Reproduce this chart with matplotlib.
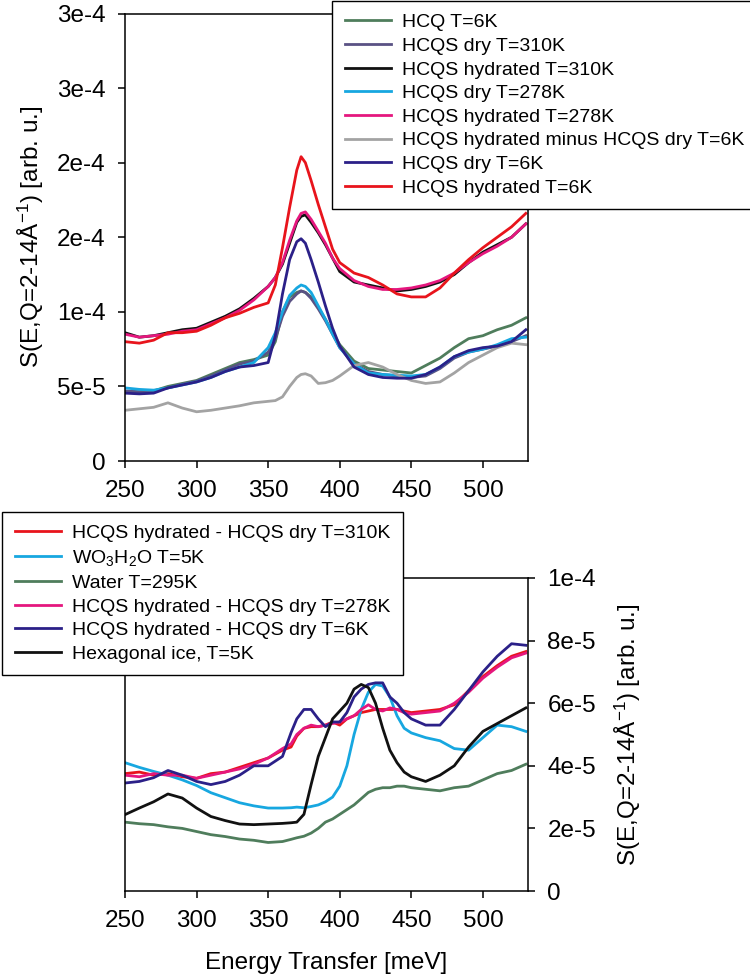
import matplotlib
matplotlib.use("Agg")
import matplotlib.pyplot as plt

plt.rcParams['font.family'] = ['Liberation Sans', 'DejaVu Sans']
plt.rcParams['mathtext.fontset'] = 'custom'
plt.rcParams['mathtext.rm'] = 'Liberation Sans'
plt.rcParams['mathtext.it'] = 'Liberation Sans'

# ---- top panel data (values in 1e-5 arb. u.) ----
e_top = [250, 260, 270, 280, 290, 300, 310, 320, 330, 340, 350, 355, 360, 365, 370, 373,
         376, 380, 385, 390, 395, 400, 410, 420, 430, 440, 450, 460, 470, 480, 490, 500,
         510, 520, 530]
hcq_6k = [4.65, 4.6, 4.7, 5.0, 5.2, 5.4, 5.8, 6.2, 6.6, 6.8, 7.1, 8.0, 10.0, 11.0, 11.3, 11.4,
          11.3, 11.0, 10.3, 9.5, 8.6, 7.8, 6.7, 6.2, 6.1, 6.0, 5.9, 6.4, 6.9, 7.6, 8.2, 8.4,
          8.8, 9.1, 9.6]
dry_310 = [4.7, 4.65, 4.7, 4.9, 5.15, 5.35, 5.7, 6.1, 6.5, 6.7, 7.3, 8.2, 9.7, 10.7, 11.2, 11.4,
           11.3, 10.9, 10.2, 9.4, 8.5, 7.6, 6.5, 6.0, 5.8, 5.7, 5.6, 5.7, 6.2, 6.9, 7.3, 7.5,
           7.7, 8.0, 8.4]
hyd_310 = [8.6, 8.3, 8.4, 8.6, 8.8, 8.9, 9.3, 9.7, 10.2, 10.9, 11.7, 12.3, 13.2, 14.6, 16.0, 16.4,
           16.5, 16.0, 15.3, 14.5, 13.6, 12.7, 12.0, 11.8, 11.6, 11.4, 11.5, 11.7, 12.0, 12.5, 13.3, 14.0,
           14.5, 15.0, 15.9]
dry_278 = [4.9, 4.8, 4.75, 4.9, 5.1, 5.3, 5.6, 6.0, 6.3, 6.6, 7.6, 8.6, 10.0, 11.1, 11.6, 11.8,
           11.7, 11.3, 10.4, 9.5, 8.5, 7.6, 6.5, 5.9, 5.8, 5.75, 5.7, 5.8, 6.3, 7.0, 7.3, 7.5,
           7.8, 8.2, 8.3]
hyd_278 = [8.5, 8.3, 8.4, 8.5, 8.7, 8.8, 9.2, 9.6, 10.1, 10.8, 11.7, 12.3, 13.3, 14.8, 16.1, 16.6,
           16.7, 16.2, 15.4, 14.6, 13.6, 12.9, 12.1, 11.7, 11.5, 11.5, 11.6, 11.8, 12.1, 12.6, 13.3, 13.9,
           14.4, 15.0, 15.9]
hyd_minus_dry_6k = [3.4, 3.5, 3.6, 3.9, 3.55, 3.3, 3.4, 3.55, 3.7, 3.9, 4.0, 4.05, 4.3, 5.0, 5.6, 5.8,
                    5.85, 5.7, 5.2, 5.25, 5.4, 5.7, 6.4, 6.6, 6.3, 5.8, 5.4, 5.2, 5.3, 5.9, 6.6, 7.1,
                    7.6, 7.9, 7.8]
dry_6k = [4.55, 4.5, 4.55, 4.9, 5.1, 5.3, 5.6, 6.0, 6.3, 6.4, 6.6, 8.4, 11.2, 13.5, 14.7, 14.9,
          14.6, 13.5, 12.0, 10.4, 8.9, 7.7, 6.3, 5.8, 5.6, 5.55, 5.55, 5.8, 6.3, 7.0, 7.4, 7.6,
          7.7, 8.0, 8.8]
hyd_6k = [8.0, 7.9, 8.1, 8.6, 8.6, 8.7, 9.1, 9.6, 9.9, 10.3, 10.6, 11.8, 14.3, 17.0, 19.5, 20.4,
          20.0, 18.8, 17.2, 15.7, 14.2, 13.3, 12.6, 12.3, 11.8, 11.2, 11.0, 11.0, 11.6, 12.6, 13.5, 14.3,
          15.0, 15.7, 16.6]

top_labels = ['HCQ T=6K', 'HCQS dry T=310K', 'HCQS hydrated T=310K', 'HCQS dry T=278K',
              'HCQS hydrated T=278K', 'HCQS hydrated minus HCQS dry T=6K', 'HCQS dry T=6K',
              'HCQS hydrated T=6K']
top_colors = ['#4f7d5c', '#5a5284', '#111111', '#17a7e0', '#e5177e', '#a3a3a3', '#2b2088', '#e8141c']
top_series = [hcq_6k, dry_310, hyd_310, dry_278, hyd_278, hyd_minus_dry_6k, dry_6k, hyd_6k]
top_yticks = [0, 5e-5, 1e-4, 1.5e-4, 2e-4, 2.5e-4, 3e-4]
top_yticklabels = ['0', '5e-5', '1e-4', '2e-4', '2e-4', '3e-4', '3e-4']

# ---- bottom panel data (values in 1e-5 arb. u.) ----
e_bot = [250, 260, 270, 280, 290, 300, 310, 320, 330, 340, 350, 360, 366, 370, 375, 380, 385,
         390, 395, 400, 405, 410, 415, 420, 425, 430, 435, 440, 445, 450, 460, 470, 480, 490,
         500, 510, 520, 530]
diff_310 = [3.75, 3.8, 3.7, 3.75, 3.65, 3.6, 3.75, 3.8, 3.95, 4.1, 4.25, 4.5, 4.6, 4.95, 5.2, 5.25, 5.25,
            5.3, 5.4, 5.3, 5.5, 5.6, 5.7, 5.75, 5.8, 5.8, 5.8, 5.8, 5.75, 5.7, 5.75, 5.8, 5.95, 6.4,
            6.85, 7.2, 7.5, 7.65]
wo3h2o_5k = [4.1, 3.95, 3.82, 3.7, 3.55, 3.37, 3.14, 2.98, 2.82, 2.72, 2.65, 2.65, 2.66, 2.68, 2.66, 2.7, 2.75,
             2.85, 3.0, 3.35, 4.0, 5.0, 5.8, 6.35, 6.6, 6.55, 6.2, 5.6, 5.2, 5.05, 4.9, 4.8, 4.55, 4.5,
             4.9, 5.3, 5.25, 5.1]
water_295 = [2.2, 2.15, 2.12, 2.05, 2.0, 1.9, 1.8, 1.74, 1.66, 1.62, 1.55, 1.58, 1.65, 1.7, 1.75, 1.85, 2.0,
             2.2, 2.3, 2.45, 2.6, 2.75, 2.95, 3.15, 3.25, 3.3, 3.3, 3.35, 3.35, 3.3, 3.25, 3.2, 3.3, 3.35,
             3.55, 3.75, 3.85, 4.05]
diff_278 = [3.7, 3.65, 3.75, 3.7, 3.7, 3.6, 3.7, 3.8, 3.9, 4.05, 4.25, 4.55, 4.7, 5.0, 5.2, 5.3, 5.25,
            5.3, 5.35, 5.4, 5.5, 5.6, 5.8, 5.95, 5.8, 5.75, 5.85, 5.8, 5.7, 5.65, 5.7, 5.75, 6.0, 6.35,
            6.8, 7.15, 7.45, 7.6]
diff_6k = [3.45, 3.5, 3.62, 3.85, 3.7, 3.5, 3.4, 3.5, 3.7, 4.0, 4.0, 4.3, 5.06, 5.5, 5.8, 5.8, 5.5,
           5.25, 5.4, 5.4, 5.7, 6.2, 6.45, 6.6, 6.65, 6.65, 6.2, 6.0, 5.7, 5.5, 5.3, 5.3, 5.8, 6.4,
           7.0, 7.5, 7.9, 7.85]
hex_ice_5k = [2.44, 2.65, 2.85, 3.1, 2.97, 2.65, 2.38, 2.25, 2.14, 2.12, 2.14, 2.16, 2.18, 2.2, 2.45, 3.4, 4.3,
              4.9, 5.5, 5.75, 6.0, 6.45, 6.6, 6.5, 6.0, 5.2, 4.5, 4.1, 3.8, 3.65, 3.5, 3.7, 4.0, 4.6,
              5.1, 5.35, 5.6, 5.85]

bot_labels = ['HCQS hydrated - HCQS dry T=310K', 'WO$_3$H$_2$O T=5K', 'Water T=295K',
              'HCQS hydrated - HCQS dry T=278K', 'HCQS hydrated - HCQS dry T=6K',
              'Hexagonal ice, T=5K']
bot_colors = ['#e8141c', '#17a7e0', '#4f7d5c', '#e5177e', '#2b2088', '#111111']
bot_series = [diff_310, wo3h2o_5k, water_295, diff_278, diff_6k, hex_ice_5k]
bot_yticks = [0, 2e-5, 4e-5, 6e-5, 8e-5, 1e-4]
bot_yticklabels = ['0', '2e-5', '4e-5', '6e-5', '8e-5', '1e-4']

xticks = [250, 300, 350, 400, 450, 500]
ylabel = 'S(E,Q=2-14Å$^{-1}$) [arb. u.]'

W, H = 750, 976
fig = plt.figure(figsize=(W / 100, H / 100), dpi=100)

def px_axes(left, top, right, bottom):
    return fig.add_axes([left / W, 1 - bottom / H, (right - left) / W, (bottom - top) / H])

def style(ax):
    for s in ax.spines.values():
        s.set_linewidth(1.1)
    ax.tick_params(direction='out', length=5, width=1.1, labelsize=17.5, pad=9)
    ax.set_xlim(250, 531.5)
    ax.set_xticks(xticks)

leg_kw = dict(loc='upper left', fontsize=14, frameon=True, fancybox=False, edgecolor='black',
              framealpha=1, handlelength=2.4, handletextpad=0.55, labelspacing=0.31,
              borderpad=0.65, borderaxespad=0)

# top panel
ax1 = px_axes(125, 13.5, 528, 461)
for ys, c, lab in zip(top_series, top_colors, top_labels):
    ax1.plot(e_top, [v * 1e-5 for v in ys], color=c, lw=2, label=lab)
style(ax1)
ax1.set_ylim(0, 3e-4)
ax1.set_yticks(top_yticks)
ax1.set_yticklabels(top_yticklabels)
ax1.set_ylabel(ylabel, fontsize=17.5, labelpad=8)
h1, l1 = ax1.get_legend_handles_labels()
fig.legend(h1, l1, bbox_to_anchor=(332 / W, 1 - 1 / H), **leg_kw)

# bottom panel
ax2 = px_axes(125, 578, 528, 891)
for ys, c, lab in zip(bot_series, bot_colors, bot_labels):
    ax2.plot(e_bot, [v * 1e-5 for v in ys], color=c, lw=2, label=lab)
style(ax2)
ax2.set_ylim(0, 1e-4)
ax2.set_yticks(bot_yticks)
ax2.set_yticklabels(bot_yticklabels)
ax2.yaxis.tick_right()
ax2.yaxis.set_label_position('right')
ax2.set_ylabel(ylabel, fontsize=17.5, rotation=90, labelpad=12)
ax2.set_xlabel('Energy Transfer [meV]', fontsize=17.5, labelpad=14)
h2, l2 = ax2.get_legend_handles_labels()
fig.legend(h2, l2, bbox_to_anchor=(2 / W, 1 - 512 / H), **leg_kw)

fig.savefig('out.png', dpi=100)
